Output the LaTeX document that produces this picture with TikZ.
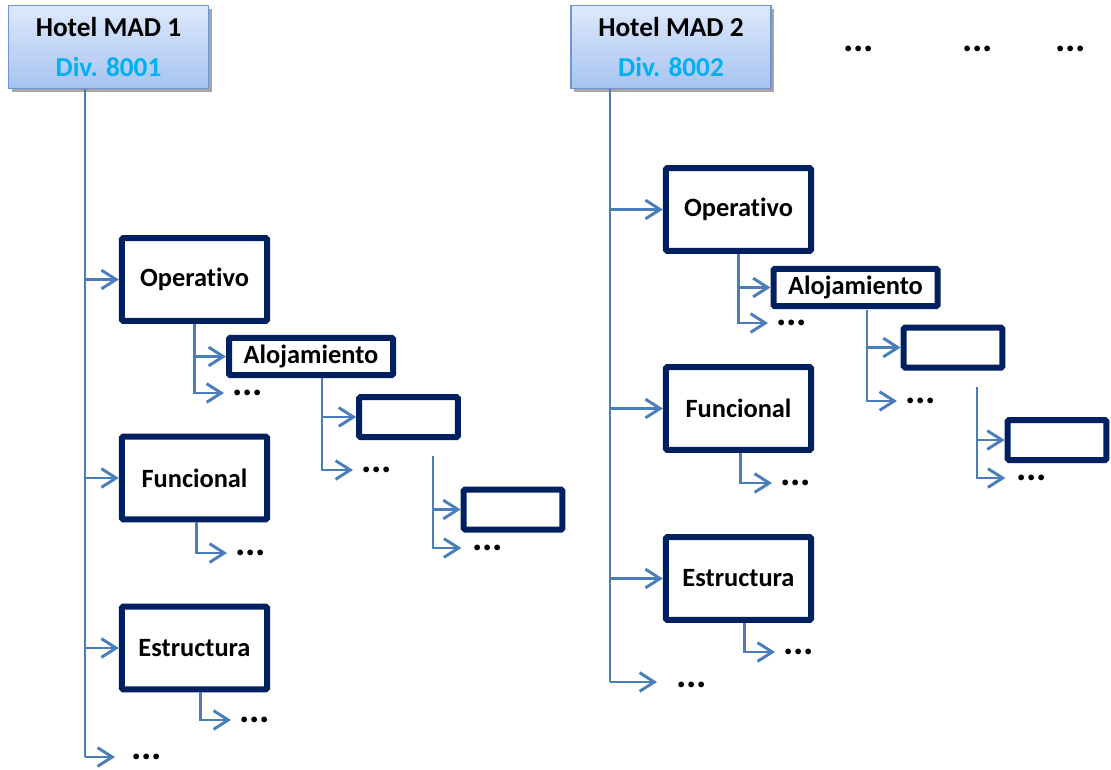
\documentclass[tikz,border=0pt]{standalone}
\usepackage{fontspec}
\setmainfont{Carlito}[Ligatures=NoCommon]
\usetikzlibrary{arrows.meta,shadows,calc}
\definecolor{linkblue}{RGB}{74,126,187}
\definecolor{navy}{RGB}{0,32,96}
\definecolor{divcyan}{RGB}{0,176,240}
\definecolor{hdrtop}{RGB}{222,233,252}
\definecolor{hdrbot}{RGB}{166,195,240}
\definecolor{hdrline}{RGB}{110,150,215}
\tikzset{
  hdr/.style={draw=hdrline, line width=0.9pt, top color=hdrtop, bottom color=hdrbot,
    minimum width=150pt, minimum height=62pt, inner sep=0pt, align=center,
    font=\fontsize{20.5}{29.5}\selectfont\bfseries,
    drop shadow={shadow xshift=2.5pt, shadow yshift=-2.5pt, opacity=0.35, fill=black}},
  unit/.style={draw=navy, line width=4.5pt, fill=white, rounded corners=1pt,
    minimum width=109pt, minimum height=62pt, inner sep=0pt,
    font=\fontsize{19.8}{21}\selectfont\bfseries},
  subunit/.style={unit, minimum width=74pt, minimum height=30pt},
  wideunit/.style={unit, minimum width=123pt, minimum height=28pt},
  more/.style={inner sep=0pt, anchor=west, font=\fontsize{29}{29}\selectfont\bfseries},
  link/.style={linkblue, line width=2.2pt},
  arr/.style={link, -{Straight Barb[length=11pt,width=14pt,line width=2.2pt]}}
}
\begin{document}
\begin{tikzpicture}[x=0.75pt,y=-0.75pt]
\useasboundingbox (0,0) rectangle (1111,769);

% ---------- first hotel ----------
\node[hdr] (h1) at (108.5,47) {Hotel MAD 1\\\textcolor{divcyan}{Div. 8001}};
\node[unit] (op1) at (194.5,279.5) {Operativo};
\node[unit] (fu1) at (194.5,478) {Funcional};
\node[unit] (es1) at (194.5,648) {Estructura};
\node[wideunit] (al1) at (311,356.5) {Alojamiento};
\node[subunit] (b1) at (408.5,417) {};
\node[subunit] (b2) at (513,509.5) {};
\node[more] (m1) at (131,757) {...};
\node[more] (m2) at (232,393) {...};
\node[more] (m3) at (361,470) {...};
\node[more] (m4) at (472,548) {...};
\node[more] (m5) at (235,553) {...};
\node[more] (m6) at (239,720) {...};

\coordinate (t1) at (85,89);
\coordinate (a1) at (322,378);
\coordinate (c1) at (433,456);

\draw[link] (t1) -- (t1 |- m1.west);
\draw[arr] (t1 |- op1.west) -- (op1.west);
\draw[arr] (t1 |- fu1.west) -- (fu1.west);
\draw[arr] (t1 |- es1.west) -- (es1.west);
\draw[arr] (t1 |- m1.west) -- ++(30,0);

\draw[arr] (op1.south) |- ([xshift=-6]m2.west);
\draw[arr] (op1.south |- al1.west) -- (al1.west);

\draw[arr] (a1) |- ([xshift=-6]m3.west);
\draw[arr] (a1 |- b1.west) -- (b1.west);

\draw[arr] (c1) |- ([xshift=-8]m4.west);
\draw[arr] (c1 |- b2.west) -- (b2.west);

\draw[arr] ([xshift=1.5]fu1.south) |- ([xshift=-6]m5.west);
\draw[arr] ([xshift=4.5]es1.south) |- ([xshift=-6]m6.west);

% ---------- second hotel ----------
\node[hdr] (h2) at (671,47) {Hotel MAD 2\\\textcolor{divcyan}{Div. 8002}};
\node[unit] (op2) at (738.5,209.5) {Operativo};
\node[unit] (fu2) at (738.5,408.5) {Funcional};
\node[unit] (es2) at (738.5,578.5) {Estructura};
\node[wideunit] (al2) at (855.5,287.5) {Alojamiento};
\node[subunit] (b3) at (953,347.5) {};
\node[subunit] (b4) at (1057,440) {};
\node[more] (m7) at (676,685) {...};
\node[more] (m8) at (776,323) {...};
\node[more] (m9) at (905,401) {...};
\node[more] (m10) at (1016,478) {...};
\node[more] (m11) at (780,483) {...};
\node[more] (m12) at (783,652) {...};

\coordinate (t2) at (610,89);
\coordinate (a2) at (867,310);
\coordinate (c2) at (977,387);

\draw[link] (t2) -- (610,682);
\draw[arr] (t2 |- op2.west) -- (op2.west);
\draw[arr] (t2 |- fu2.west) -- (fu2.west);
\draw[arr] (t2 |- es2.west) -- (es2.west);
\draw[arr] (610,682) -- ++(47,0);

\draw[arr] (op2.south) |- ([xshift=-6]m8.west);
\draw[arr] (op2.south |- al2.west) -- (al2.west);

\draw[arr] (a2) |- ([xshift=-6]m9.west);
\draw[arr] (a2 |- b3.west) -- (b3.west);

\draw[arr] (c2) |- ([xshift=-8]m10.west);
\draw[arr] (c2 |- b4.west) -- (b4.west);

\draw[arr] ([xshift=1.5]fu2.south) |- ([xshift=-6]m11.west);
\draw[arr] ([xshift=4.5]es2.south) |- ([xshift=-6]m12.west);

% ---------- further hotels ----------
\node[more] (m13) at (843,49) {...};
\node[more] (m14) at (962,49) {...};
\node[more] (m15) at (1055,49) {...};
\end{tikzpicture}
\end{document}
